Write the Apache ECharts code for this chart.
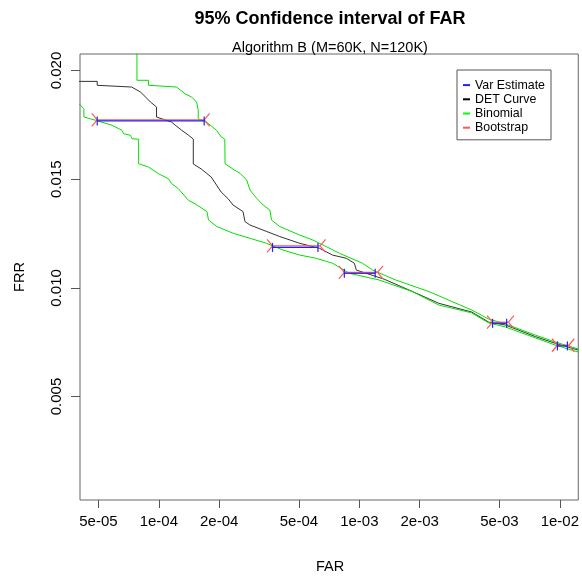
<!DOCTYPE html>
<html>
<head>
<meta charset="utf-8">
<script src="https://cdn.jsdelivr.net/npm/echarts@6/dist/echarts.min.js"></script>
<style>
  html, body { margin: 0; padding: 0; background: #fff; }
  #chart { width: 582px; height: 577px; }
</style>
</head>
<body>
<div id="chart"></div>
<script>
// Axis limits (R style: data range padded by 4% on each side)
const farLimits = [5e-5, 1e-2];
const frrLimits = [0.001, 0.020];

// Tick positions and their labels
const farTicks = [5e-5, 1e-4, 2e-4, 5e-4, 1e-3, 2e-3, 5e-3, 1e-2];
const farTickLabels = ['5e-05', '1e-04', '2e-04', '5e-04', '1e-03', '2e-03', '5e-03', '1e-02'];
const frrTicks = [0.005, 0.010, 0.015, 0.020];
const frrTickLabels = ['0.005', '0.010', '0.015', '0.020'];

// DET curve
const detFar = [4.0e-5, 4.93e-5, 4.93e-5, 7.32e-5, 8.11e-5, 9.09e-5, 9.74e-5, 9.74e-5, 1.156e-4, 1.296e-4,
  1.404e-4, 1.486e-4, 1.486e-4, 1.628e-4, 1.825e-4, 2.046e-4, 2.216e-4, 2.346e-4, 2.630e-4, 2.691e-4,
  2.849e-4, 3.459e-4, 4.013e-4, 5.042e-4, 6.335e-4, 7.347e-4, 8.62e-4, 9.45e-4, 9.66e-4, 1.330e-3,
  1.770e-3, 2.493e-3, 3.633e-3, 4.411e-3, 5.356e-3, 7.544e-3, 9.478e-3, 1.232e-2];
const detFrr = [0.01950, 0.01950, 0.01932, 0.01924, 0.01901, 0.01855, 0.01832, 0.01786, 0.01763, 0.01726,
  0.01703, 0.01685, 0.01570, 0.01547, 0.01510, 0.01441, 0.01410, 0.01381, 0.01351, 0.01305,
  0.01289, 0.01259, 0.01236, 0.01205, 0.01182, 0.01151, 0.01136, 0.01113, 0.01082, 0.01040,
  0.00990, 0.00929, 0.00889, 0.00843, 0.00829, 0.00776, 0.00745, 0.00714];

// Binomial confidence band: upper edge
const binUpFar = [7.78e-5, 7.78e-5, 8.89e-5, 8.89e-5, 1.228e-4, 1.352e-4, 1.458e-4, 1.543e-4, 1.573e-4, 1.573e-4,
  1.730e-4, 1.939e-4, 2.052e-4, 2.134e-4, 2.14e-4, 2.392e-4, 2.542e-4, 2.744e-4, 2.849e-4, 3.075e-4,
  3.316e-4, 3.579e-4, 3.649e-4, 4.013e-4, 5.042e-4, 5.868e-4, 6.838e-4, 7.96e-4, 1.039e-3, 1.164e-3,
  1.521e-3, 2.223e-3, 3.633e-3, 4.411e-3, 5.356e-3, 7.544e-3, 9.478e-3, 1.232e-2];
const binUpFrr = [0.02094, 0.01955, 0.01955, 0.01932, 0.01924, 0.01893, 0.01878, 0.01855, 0.01817, 0.01778,
  0.01763, 0.01725, 0.01694, 0.01684, 0.01571, 0.01541, 0.01527, 0.01496, 0.01450, 0.01412,
  0.01381, 0.01358, 0.01312, 0.01282, 0.01243, 0.01220, 0.01190, 0.01159, 0.01113, 0.01082,
  0.01036, 0.00983, 0.00898, 0.00857, 0.00834, 0.00783, 0.00751, 0.00719];

// Binomial confidence band: lower edge
const binLoFar = [4.0e-5, 4.23e-5, 4.23e-5, 4.84e-5, 5.85e-5, 6.55e-5, 6.68e-5, 7.22e-5, 7.35e-5, 7.93e-5,
  7.93e-5, 8.89e-5, 9.97e-5, 1.117e-4, 1.160e-4, 1.252e-4, 1.404e-4, 1.515e-4, 1.738e-4, 1.770e-4,
  1.948e-4, 2.354e-4, 2.849e-4, 3.447e-4, 4.166e-4, 5.042e-4, 6.10e-4, 7.37e-4, 8.92e-4, 1.257e-3,
  1.838e-3, 2.493e-3, 3.633e-3, 4.411e-3, 5.356e-3, 7.544e-3, 9.478e-3, 1.232e-2];
const binLoFrr = [0.01847, 0.01824, 0.01786, 0.01771, 0.01748, 0.01725, 0.01709, 0.01702, 0.01686, 0.01684,
  0.01571, 0.01556, 0.01525, 0.01502, 0.01479, 0.01456, 0.01403, 0.01387, 0.01351, 0.01312,
  0.01282, 0.01251, 0.01228, 0.01205, 0.01174, 0.01151, 0.01136, 0.01113, 0.01067, 0.01036,
  0.00983, 0.00921, 0.00885, 0.00839, 0.00820, 0.00770, 0.00737, 0.00705];

// Variance-estimate intervals (FAR low / high at a given FRR)
const varLo = [4.93e-5, 3.69e-4, 8.42e-4, 4.62e-3, 9.73e-3];
const varHi = [1.684e-4, 6.22e-4, 1.200e-3, 5.43e-3, 1.091e-2];
const varFrr = [0.01768, 0.01186, 0.01067, 0.00837, 0.00733];

// Bootstrap intervals
const bootLo = [4.93e-5, 3.69e-4, 8.42e-4, 4.62e-3, 9.73e-3];
const bootHi = [1.684e-4, 6.37e-4, 1.232e-3, 5.54e-3, 1.108e-2];
const bootFrr = [0.01773, 0.01193, 0.01071, 0.00842, 0.00736];

const FONT = '"Liberation Sans", Arial, Helvetica, sans-serif';
const lg = Math.log10;

function padRange(a, b) {
  const r = b - a;
  return [a - 0.04 * r, b + 0.04 * r];
}
const xRange = padRange(lg(farLimits[0]), lg(farLimits[1]));
const yRange = padRange(frrLimits[0], frrLimits[1]);

function pairs(xs, ys) {
  return xs.map((x, i) => [lg(x), ys[i]]);
}
function intervals(lo, hi, y) {
  return lo.map((v, i) => [lg(v), lg(hi[i]), y[i]]);
}

// Horizontal interval with end caps: '|' for variance, outward arms for bootstrap
function intervalRenderer(kind) {
  return function (params, api) {
    const y = api.value(2);
    const a = api.coord([api.value(0), y]);
    const b = api.coord([api.value(1), y]);
    const color = api.visual('color');
    const st = { stroke: color, lineWidth: 1.2 };
    const seg = (x1, y1, x2, y2) => ({ type: 'line', shape: { x1, y1, x2, y2 }, style: st });
    const children = [seg(a[0], a[1], b[0], b[1])];
    if (kind === 'var') {
      children.push(seg(a[0], a[1] - 4.5, a[0], a[1] + 4.5));
      children.push(seg(b[0], b[1] - 4.5, b[0], b[1] + 4.5));
    } else {
      const dx = 5.5, dy = 6.5;
      children.push(seg(a[0], a[1], a[0] - dx, a[1] - dy));
      children.push(seg(a[0], a[1], a[0] - dx, a[1] + dy));
      children.push(seg(b[0], b[1], b[0] + dx, b[1] - dy));
      children.push(seg(b[0], b[1], b[0] + dx, b[1] + dy));
    }
    return { type: 'group', children };
  };
}

const chart = echarts.init(document.getElementById('chart'), null, { renderer: 'canvas' });

const lineBase = { type: 'line', showSymbol: false, symbol: 'none', clip: true, animation: false, z: 2 };

chart.setOption({
  backgroundColor: '#ffffff',
  animation: false,
  textStyle: { fontFamily: FONT },
  grid: { left: 80, top: 54, right: 1.5, bottom: 77, show: true, borderColor: '#666', borderWidth: 1, backgroundColor: 'transparent' },
  graphic: [
    { type: 'text', x: 330, y: 19, style: { text: '95% Confidence interval of FAR', align: 'center', verticalAlign: 'middle', fontFamily: FONT, fontSize: 18, fontWeight: 'bold', fill: '#000' } },
    { type: 'text', x: 330, y: 48, style: { text: 'Algorithm B (M=60K, N=120K)', align: 'center', verticalAlign: 'middle', fontFamily: FONT, fontSize: 14.5, fill: '#000' } },
    { type: 'text', x: 330, y: 567, style: { text: 'FAR', align: 'center', verticalAlign: 'middle', fontFamily: FONT, fontSize: 14.5, fill: '#000' } },
    { type: 'text', x: 20, y: 277, rotation: Math.PI / 2, style: { text: 'FRR', align: 'center', verticalAlign: 'middle', fontFamily: FONT, fontSize: 14.5, fill: '#000' } }
  ],
  legend: {
    orient: 'vertical',
    left: 457,
    top: 70,
    padding: [8, 6, 5, 6],
    itemGap: 0,
    itemWidth: 7,
    itemHeight: 2,
    selectedMode: false,
    borderColor: '#555',
    borderWidth: 1,
    textStyle: { fontFamily: FONT, fontSize: 12.4, color: '#000', lineHeight: 14.2 },
    data: [
      { name: 'Var Estimate', icon: 'rect' },
      { name: 'DET Curve', icon: 'rect' },
      { name: 'Binomial', icon: 'rect' },
      { name: 'Bootstrap', icon: 'rect' }
    ]
  },
  xAxis: {
    type: 'value',
    min: xRange[0],
    max: xRange[1],
    axisLine: { show: false },
    splitLine: { show: false },
    axisTick: { show: true, length: 8, lineStyle: { color: '#555' }, customValues: farTicks.map(lg) },
    axisLabel: {
      customValues: farTicks.map(lg),
      margin: 14,
      fontFamily: FONT,
      fontSize: 15,
      color: '#000',
      formatter: function (v) {
        let best = 0;
        farTicks.forEach((t, i) => { if (Math.abs(lg(t) - v) < Math.abs(lg(farTicks[best]) - v)) best = i; });
        return farTickLabels[best];
      }
    }
  },
  yAxis: {
    type: 'value',
    min: yRange[0],
    max: yRange[1],
    axisLine: { show: false },
    splitLine: { show: false },
    axisTick: { show: true, length: 9, lineStyle: { color: '#555' }, customValues: frrTicks },
    axisLabel: {
      customValues: frrTicks,
      rotate: 90,
      margin: 16,
      fontFamily: FONT,
      fontSize: 15,
      color: '#000',
      formatter: function (v) {
        let best = 0;
        frrTicks.forEach((t, i) => { if (Math.abs(t - v) < Math.abs(frrTicks[best] - v)) best = i; });
        return frrTickLabels[best];
      }
    }
  },
  series: [
    Object.assign({}, lineBase, {
      name: 'DET Curve', data: pairs(detFar, detFrr),
      lineStyle: { color: '#333333', width: 1 }, itemStyle: { color: '#000000' }
    }),
    Object.assign({}, lineBase, {
      name: 'Binomial', data: pairs(binUpFar, binUpFrr),
      lineStyle: { color: '#00e000', width: 1 }, itemStyle: { color: '#00ff00' }
    }),
    Object.assign({}, lineBase, {
      name: 'Binomial', data: pairs(binLoFar, binLoFrr),
      lineStyle: { color: '#00e000', width: 1 }, itemStyle: { color: '#00ff00' }
    }),
    {
      type: 'custom', name: 'Bootstrap', z: 3, clip: true, animation: false,
      itemStyle: { color: '#ff5a5a' },
      encode: { x: [0, 1], y: 2 },
      renderItem: intervalRenderer('boot'),
      data: intervals(bootLo, bootHi, bootFrr)
    },
    {
      type: 'custom', name: 'Var Estimate', z: 4, clip: true, animation: false,
      itemStyle: { color: '#2020ff' },
      encode: { x: [0, 1], y: 2 },
      renderItem: intervalRenderer('var'),
      data: intervals(varLo, varHi, varFrr)
    }
  ]
});
</script>
</body>
</html>
